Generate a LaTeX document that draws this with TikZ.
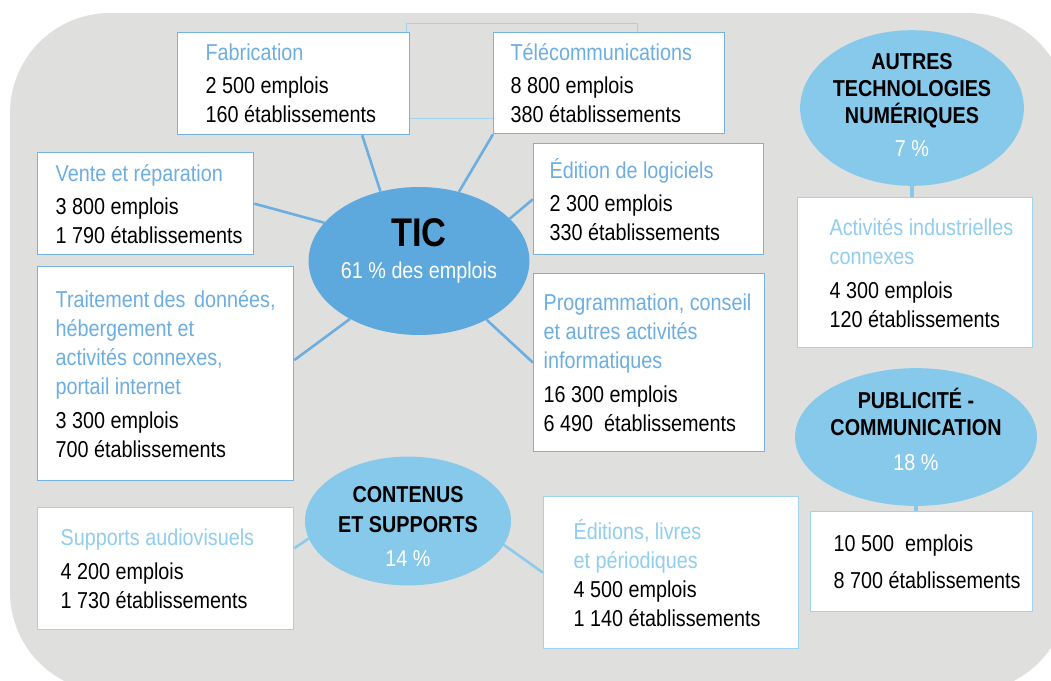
\documentclass[tikz,border=0pt]{standalone}
\usepackage{fontspec}
\setmainfont{Liberation Sans}[FakeStretch=0.86]
\usetikzlibrary{shapes.geometric}
\definecolor{bggray}{HTML}{DFE0DE}
\definecolor{ticblue}{HTML}{5DA8DC}
\definecolor{bubblesoft}{HTML}{87C9EB}
\definecolor{linktic}{HTML}{6CAEDF}
\definecolor{linksoft}{HTML}{8DCBEC}
\definecolor{boxtic}{HTML}{74B3E2}
\definecolor{boxsoft}{HTML}{9FD4F0}
\definecolor{titletic}{HTML}{6DAEE2}
\definecolor{titlesoft}{HTML}{91CDEE}
\newcommand\boxfont{\fontsize{23}{29}\selectfont\hyphenpenalty10000\hbadness10000\hfuzz40pt\relax}
\begin{document}
\begin{tikzpicture}
    [
    x=1pt, y=-1pt,
    box/.style={draw=boxtic,line width=1.3pt,fill=white,anchor=north west,align=flush left,inner ysep=0pt,font=\boxfont},
    softbox/.style={box,draw=boxsoft},
    bubble/.style={ellipse,fill=bubblesoft,inner sep=0pt,align=flush center,font=\fontsize{23}{27}\selectfont\bfseries},
    link/.style={draw=linktic,line width=2.6pt},
    softlink/.style={draw=linksoft,line width=2.6pt},
    stem/.style={draw=bubblesoft,line width=4pt}
    ]
    \useasboundingbox (0,0) rectangle (1051,680);
    \clip (0,0) rectangle (1051,680);
    \fill [bggray, rounded corners=100pt] (10,13) rectangle (1068,692);
    \draw [boxsoft, line width=0.8pt] (406,23) rectangle (637,118);
    % TIC
    \node (tic) at (419,261) [bubble,fill=ticblue,minimum width=198pt,minimum height=148pt] {{\fontsize{40}{44}\selectfont TIC}\\[5pt]{\mdseries\color{white}61 \% des emplois}\rule[-25pt]{0pt}{25pt}};
    \node (fab) at (177,32) [box,text width=176pt,inner xsep=28pt,minimum height=102pt] {\textcolor{titletic}{Fabrication}\\[4pt]2~500 emplois\\160 établissements};
    \node (tel) at (493,32) [box,text width=197pt,inner xsep=17pt,minimum height=101pt] {\textcolor{titletic}{Télécommunications}\\[4pt]8~800 emplois\\380 établissements};
    \node (vente) at (37,152) [box,text width=200pt,inner xsep=8pt,minimum height=102pt] {\leftskip=10pt\textcolor{titletic}{Vente et réparation}\\[4pt]3~800 emplois\\1~790 établissements\par};
    \node (edl) at (533,143) [box,text width=198pt,inner xsep=16pt,minimum height=111pt] {\textcolor{titletic}{Édition de logiciels}\\[4pt]2~300 emplois\\330 établissements};
    \node (trait) at (37,266) [box,text width=220pt,inner xsep=18pt,minimum height=214pt] {\textcolor{titletic}{Traitement~des~~données,}\\\textcolor{titletic}{hébergement et}\\\textcolor{titletic}{activités connexes,}\\\textcolor{titletic}{portail internet}\\[5pt]3~300 emplois\\700 établissements};
    \node (prog) at (533,273) [box,text width=211pt,inner xsep=10pt,minimum height=178pt] {\textcolor{titletic}{Programmation, conseil}\\\textcolor{titletic}{et autres activités}\\\textcolor{titletic}{informatiques}\\[5pt]16~300 emplois\\6~490~~établissements};
    % autres technologies
    \node (autres) at (912,108) [bubble,minimum width=206pt,minimum height=152pt] {AUTRES\\TECHNOLOGIES\\NUMÉRIQUES\\[6pt]{\mdseries\color{white}7 \%}\rule[-7pt]{0pt}{7pt}};
    \node (act) at (797,197) [softbox,text width=219pt,inner xsep=8pt,minimum height=150pt] {\leftskip=24pt\textcolor{titlesoft}{Activités industrielles}\\\textcolor{titlesoft}{connexes}\\[5pt]4~300 emplois\\120 établissements\par};
    % publicite
    \node (pub) at (916,437) [bubble,minimum width=214pt,minimum height=120pt] {PUBLICITÉ -\\COMMUNICATION\\[8pt]{\mdseries\color{white}18 \%}\rule[-15pt]{0pt}{15pt}};
    \node (pubbox) at (810,511) [softbox,text width=206pt,inner xsep=8pt,minimum height=100pt] {\leftskip=15pt 10~500~~emplois\\[8pt]8~700 établissements\par};
    % contenus
    \node (cont) at (408,521) [bubble,minimum width=206pt,minimum height=126pt] {\rule{0pt}{27pt}CONTENUS\\[3pt]ET SUPPORTS\\[7pt]{\mdseries\color{white}14 \%}};
    \node (sup) at (37,507) [softbox,text width=210pt,inner xsep=23pt,minimum height=122pt] {\textcolor{titlesoft}{Supports audiovisuels}\\[5pt]4~200 emplois\\1~730 établissements};
    \node (edit) at (543,496) [softbox,text width=195pt,inner xsep=30pt,minimum height=152pt] {\textcolor{titlesoft}{Éditions, livres}\\\textcolor{titlesoft}{et périodiques}\\4~500 emplois\\1~140 établissements};
    \draw [link] (fab.-37) -- (tic.119);
    \draw [link] (tel.south west) -- (tic.60);
    \draw [link] (vente.east) -- (tic.158);
    \draw [link] (edl.west) -- (tic.25);
    \draw [link] (trait.6) -- (tic.220);
    \draw [link] (prog.west) -- (tic.-41);
    \draw [softlink] (sup.9) -- (cont.190);
    \draw [softlink] (edit.west) -- (cont.-14);
    \draw [stem] (autres.south) -- (autres.south |- act.north);
    \draw [stem] (pub.south) -- (pub.south |- pubbox.north);
\end{tikzpicture}
\end{document}
